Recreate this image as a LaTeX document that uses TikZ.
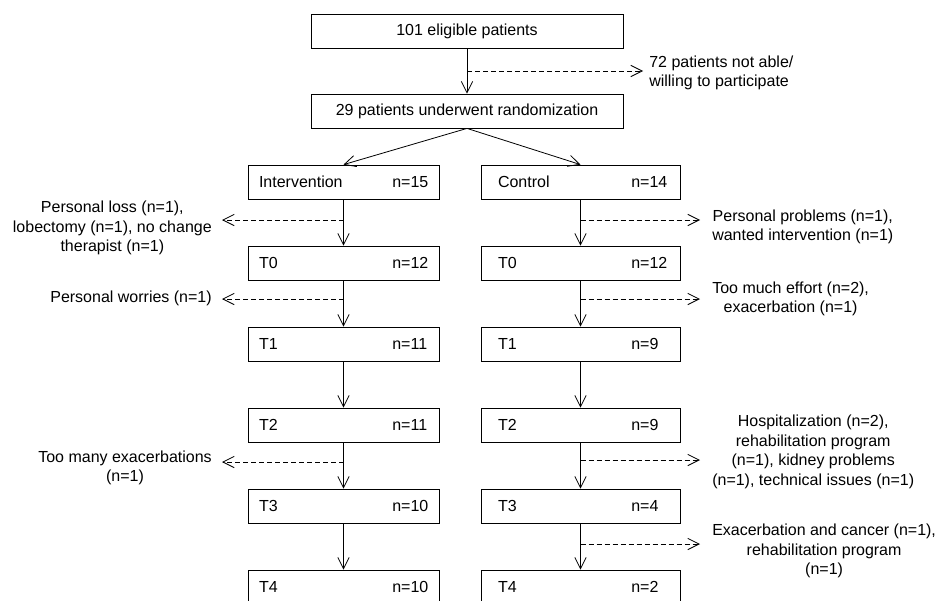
\documentclass[tikz,border=0pt]{standalone}
\usepackage{fontspec}
\setmainfont{Liberation Sans}
\usetikzlibrary{positioning, arrows.meta}

\tikzset{
    stagebox/.style={draw, line width=0.6pt, minimum height=25.5pt, align=left, inner ysep=0pt},
    armL/.style={stagebox, text width=126.75pt, inner xsep=8.25pt},
    armR/.style={stagebox, text width=123.75pt, inner xsep=12.75pt},
    mainbox/.style={draw, line width=0.6pt, minimum width=234pt, minimum height=25.5pt},
    flow/.style={-{Straight Barb[length=8.5pt, width=8.5pt]}, line width=0.6pt},
    dropout/.style={flow, dash pattern=on 3.75pt off 2.25pt},
    reasonL/.style={anchor=east, align=center, inner xsep=7.5pt, inner ysep=0pt},
    reasonR/.style={anchor=west, align=center, inner xsep=9pt, inner ysep=0pt},
}
\newcommand{\stage}[2]{\makebox[100pt][l]{#1}#2}

\begin{document}
\begin{tikzpicture}[x=0.75pt, y=-0.75pt, font=\fontsize{12}{14.6}\selectfont]
    \useasboundingbox (0,0) rectangle (941,600);

    \node[mainbox] (elig) at (467,31) {101 eligible patients};
    \node[mainbox] (rand) at (467,111) {29 patients underwent randomization};
    \draw[flow] (elig) -- (rand);
    \coordinate (ex) at (467,71);
    \node[anchor=west, align=left, inner xsep=4.5pt] (excl) at (643,73)
      {72 patients not able/\\willing to participate};
    \draw[dropout] (ex) -- (ex -| excl.west);

    % both arms
    \foreach \lab/\cnt [count=\i from 0] in {Intervention/15, T0/12, T1/11, T2/11, T3/10, T4/10}
        \node[armL] (int\i) at (343.5,182+81*\i) {\stage{\lab}{n=\cnt}};
    \foreach \lab/\cnt [count=\i from 0] in {Control/14, T0/12, T1/9, T2/9, T3/4, T4/2}
        \node[armR] (con\i) at (580.5,182+81*\i) {\stage{\lab}{n=\cnt}};
    \draw[flow] (rand.south) -- (int0.north);
    \draw[flow] (rand.south) -- (con0.north);
    \foreach \i [count=\j] in {0,...,4} {
        \draw[flow] (int\i) -- (int\j);
        \draw[flow] (con\i) -- (con\j);
    }

    % drop-outs, intervention
    \coordinate (li0) at (343.5,220);
    \coordinate (li1) at (343.5,299);
    \coordinate (li3) at (343.5,462);
    \node[reasonL] (lr0) at (222,228) {Personal loss (n=1),\\lobectomy (n=1), no change\\therapist (n=1)};
    \node[reasonL] (lr1) at (222,298) {Personal worries (n=1)};
    \node[reasonL] (lr3) at (222,468) {Too many exacerbations\\(n=1)};
    \draw[dropout] (li0) -- (li0 -| lr0.east);
    \draw[dropout] (li1) -- (li1 -| lr1.east);
    \draw[dropout] (li3) -- (li3 -| lr3.east);

    % drop-outs, control
    \coordinate (ri0) at (580.5,220);
    \coordinate (ri1) at (580.5,299);
    \coordinate (ri2) at (580.5,460);
    \coordinate (ri3) at (580.5,544);
    \node[reasonR] (rr0) at (700,227) {Personal problems (n=1),\\wanted intervention (n=1)};
    \node[reasonR] (rr1) at (700,299) {Too much effort (n=2),\\exacerbation (n=1)};
    \node[reasonR] (rr2) at (700,452) {Hospitalization (n=2),\\rehabilitation program\\(n=1), kidney problems\\(n=1), technical issues (n=1)};
    \node[reasonR] (rr3) at (700,551) {Exacerbation and cancer (n=1),\\rehabilitation program\\(n=1)};
    \draw[dropout] (ri0) -- (ri0 -| rr0.west);
    \draw[dropout] (ri1) -- (ri1 -| rr1.west);
    \draw[dropout] (ri2) -- (ri2 -| rr2.west);
    \draw[dropout] (ri3) -- (ri3 -| rr3.west);
\end{tikzpicture}
\end{document}
